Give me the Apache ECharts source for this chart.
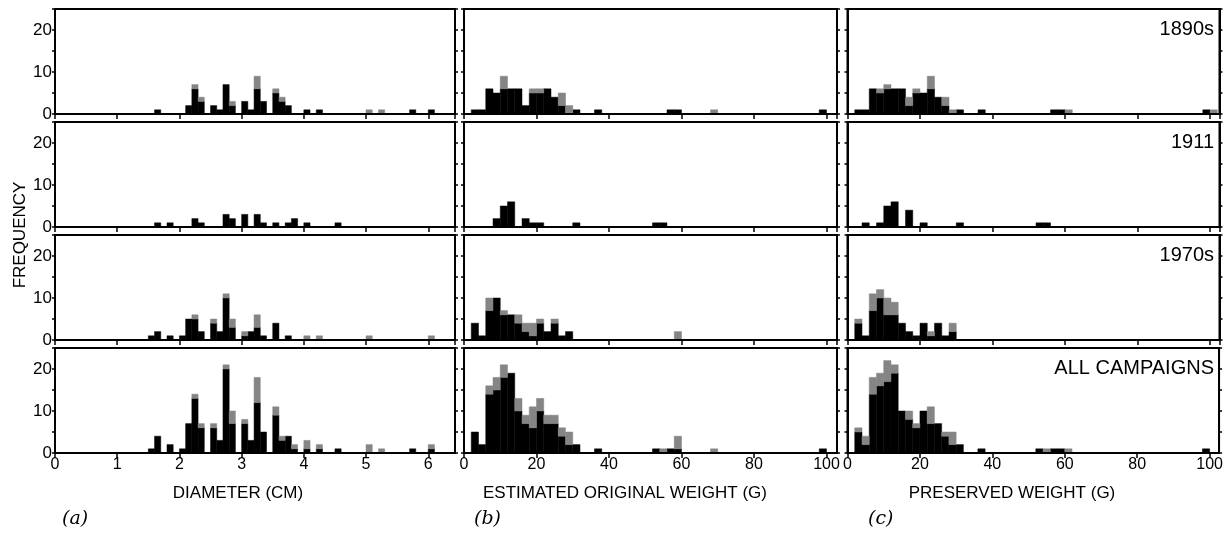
<!DOCTYPE html>
<html><head><meta charset="utf-8">
<script src="https://cdn.jsdelivr.net/npm/echarts@6/dist/echarts.min.js"></script>
<style>html,body{margin:0;padding:0;background:#fff}#c{width:1226px;height:540px}</style>
</head><body><div id="c"></div><script>
// ---------- data ----------
const rowLabels = ['1890s', '1911', '1970s', 'ALL CAMPAIGNS'];
const colTitles = ['DIAMETER (CM)', 'ESTIMATED ORIGINAL WEIGHT (G)', 'PRESERVED WEIGHT (G)'];
const panelLetters = ['(a)', '(b)', '(c)'];
const yLabelValues = [0, 10, 20];

// diameter: bins of 0.1 cm starting at 1.5 cm
const diamBinStart = 1.5, diamBinWidth = 0.1;
const dBlack1890 = [0,1,0,0,0,0,2,6,3,0, 2,1,7,2,0,3,1,6,3,0, 5,3,2,0,0,1,0,1,0,0, 0,0,0,0,0,0,0,0,0,0, 0,0,1,0,0,1];
const dGray1890  = [0,0,0,0,0,0,0,1,1,0, 0,0,0,1,0,0,0,3,0,0, 1,1,0,0,0,0,0,0,0,0, 0,0,0,0,0,1,0,1];
const dBlack1911 = [0,1,0,1,0,0,0,2,1,0, 0,0,3,2,0,3,0,3,1,0, 1,0,1,2,0,1,0,0,0,0, 1];
const dGray1911  = [];
const dBlack1970 = [1,2,0,1,0,1,5,5,2,0, 4,2,10,3,0,1,2,3,1,0, 4,0,1];
const dGray1970  = [0,0,0,0,0,0,0,1,0,0, 1,0,1,2,0,1,0,3,0,0, 0,0,0,0,0,1,0,1,0,0, 0,0,0,0,0,1,0,0,0,0, 0,0,0,0,0,1];
const dBlackAll  = [1,4,0,2,0,1,7,13,6,0, 6,3,20,7,0,7,3,12,5,0, 9,3,4,1,0,1,0,1,0,0, 1,0,0,0,0,0,0,0,0,0, 0,0,1,0,0,1];
const dGrayAll   = [0,0,0,0,0,0,0,1,1,0, 1,0,1,3,0,1,0,6,0,0, 2,1,0,1,0,2,0,1,0,0, 0,0,0,0,0,2,0,1,0,0, 0,0,0,0,0,1];

// weights: bins of 2 g starting at 0 g
const weightBinStart = 0, weightBinWidth = 2;
const wBlack1890 = [0,1,1,6,5,6,6,6,2,5, 5,6,4,2,0,1,0,0,1,0, 0,0,0,0,0,0,0,0,1,1, 0,0,0,0,0,0,0,0,0,0, 0,0,0,0,0,0,0,0,0,1];
const wGray1890  = [0,0,0,0,0,3,0,0,0,1, 1,0,0,3,2,0,0,0,0,0, 0,0,0,0,0,0,0,0,0,0, 0,0,0,0,1];
const wBlack1911 = [0,0,0,0,2,5,6,0,2,1, 1,0,0,0,0,1,0,0,0,0, 0,0,0,0,0,0,1,1];
const wGray1911  = [];
const wBlack1970 = [0,4,1,7,10,6,6,4,2,1, 4,2,4,1,2];
const wGray1970  = [0,0,0,3,0,1,0,2,2,3, 1,0,1,0,0,0,0,0,0,0, 0,0,0,0,0,0,0,0,0,2];
const wBlackAll  = [0,5,2,14,15,18,19,10,7,6, 10,7,7,4,2,2,0,0,1,0, 0,0,0,0,0,0,1,0,1,1, 0,0,0,0,0,0,0,0,0,0, 0,0,0,0,0,0,0,0,0,1];
const wGrayAll   = [0,0,0,2,3,3,0,3,2,5, 3,2,2,2,3,0,0,0,0,0, 0,0,0,0,0,0,0,1,0,3, 0,0,0,0,1];

const pBlack1890 = [0,1,1,6,5,6,6,6,2,5, 5,6,4,2,0,1,0,0,1,0, 0,0,0,0,0,0,0,0,1,1, 0,0,0,0,0,0,0,0,0,0, 0,0,0,0,0,0,0,0,0,1];
const pGray1890  = [0,0,0,0,1,1,0,0,2,1, 0,3,0,2,1,0,0,0,0,0, 0,0,0,0,0,0,0,0,0,0, 1,0,0,0,0,0,0,0,0,0, 0,0,0,0,0,0,0,0,0,0, 1];
const pBlack1911 = [0,0,1,0,1,5,6,0,4,0, 1,0,0,0,0,1,0,0,0,0, 0,0,0,0,0,0,1,1];
const pGray1911  = [];
const pBlack1970 = [0,4,1,7,10,6,6,4,2,1, 4,1,4,1,2];
const pGray1970  = [0,1,0,4,2,4,3,0,0,0, 0,1,0,0,2];
const pBlackAll  = [0,5,2,14,16,17,19,10,8,6, 10,7,7,4,2,2,0,0,1,0, 0,0,0,0,0,0,1,0,1,1, 0,0,0,0,0,0,0,0,0,0, 0,0,0,0,0,0,0,0,0,1];
const pGrayAll   = [0,1,2,4,3,5,2,0,2,1, 0,4,0,1,3,0,0,0,0,0, 0,0,0,0,0,0,0,1,0,0, 1];

// ---------- layout ----------
const FONT = 'Liberation Sans, Arial, sans-serif';
const TICKFONT = 'Liberation Sans Narrow, Arial Narrow, Liberation Sans, sans-serif';
const cols = [
  {left: 55,    width: 400, max: 6.43,  interval: 1,  start: diamBinStart,   bw: diamBinWidth, titleX: 238},
  {left: 464,   width: 373, max: 102.9, interval: 20, start: weightBinStart, bw: weightBinWidth, titleX: 625},
  {left: 847.5, width: 372, max: 102.6, interval: 20, start: weightBinStart, bw: weightBinWidth, titleX: 1012}
];
const rowTops = [9, 122, 235, 348];
const rowH = 105;

const panelData = [
  [[dBlack1890, dGray1890], [wBlack1890, wGray1890], [pBlack1890, pGray1890]],
  [[dBlack1911, dGray1911], [wBlack1911, wGray1911], [pBlack1911, pGray1911]],
  [[dBlack1970, dGray1970], [wBlack1970, wGray1970], [pBlack1970, pGray1970]],
  [[dBlackAll,  dGrayAll],  [wBlackAll,  wGrayAll],  [pBlackAll,  pGrayAll]]
];

function rects(blackArr, grayArr, start, w) {
  const blk = [], gry = [];
  const n = Math.max(blackArr.length, grayArr.length);
  for (let i = 0; i < n; i++) {
    const b = blackArr[i] || 0, g = grayArr[i] || 0;
    const x0 = +(start + i * w).toFixed(4), x1 = +(start + (i + 1) * w).toFixed(4);
    if (b > 0) blk.push([x0, x1, 0, b]);
    if (g > 0) gry.push([x0, x1, b, b + g]);
  }
  return [blk, gry];
}
function renderRect(params, api) {
  const p0 = api.coord([api.value(0), api.value(3)]);
  const p1 = api.coord([api.value(1), api.value(2)]);
  const c = api.visual('color');
  return {type: 'rect', shape: {x: p0[0], y: p0[1], width: p1[0] - p0[0], height: p1[1] - p0[1]},
          style: {fill: c, stroke: c, lineWidth: 0.5}};
}

const grid = [], xAxis = [], yAxis = [], series = [];
const titles = [];
const graphics = [];
rowTops.forEach((top, r) => {
  cols.forEach((col, c) => {
    const gi = grid.length;
    grid.push({left: col.left, top: top, width: col.width, height: rowH,
               show: true, borderColor: '#000', borderWidth: 2, backgroundColor: 'transparent'});
    const isBottom = r === rowTops.length - 1;
    xAxis.push({
      type: 'value', gridIndex: gi, min: 0, max: col.max, interval: col.interval, z: 5,
      axisLine: {show: true, onZero: false, lineStyle: {color: '#000', width: 2}},
      axisTick: {show: true, inside: false, length: 5, lineStyle: {color: '#000', width: 1.5}},
      axisLabel: {show: isBottom, color: '#000', fontFamily: TICKFONT, fontSize: 16, margin: 4,
                  showMaxLabel: false,
                  formatter: v => (Math.abs(v / col.interval - Math.round(v / col.interval)) < 1e-6 ? String(v) : '')},
      splitLine: {show: false}
    });
    const yCommon = {
      type: 'value', gridIndex: gi, min: 0, max: 25, interval: 5, z: 5,
      axisLine: {show: true, lineStyle: {color: '#000', width: 2}},
      axisTick: {show: true, inside: false, length: 3, lineStyle: {color: '#000', width: 1.5}},
      splitLine: {show: false}
    };
    yAxis.push(Object.assign({}, yCommon, {position: 'left',
      axisLabel: {show: c === 0, color: '#000', fontFamily: TICKFONT, fontSize: 17, margin: 3,
                  formatter: v => (yLabelValues.indexOf(v) >= 0 ? String(v) : '')}}));
    yAxis.push(Object.assign({}, yCommon, {position: 'right', axisLabel: {show: false}}));
    const [blk, gry] = rects(panelData[r][c][0], panelData[r][c][1], col.start, col.bw);
    series.push({type: 'custom', xAxisIndex: gi, yAxisIndex: gi * 2, renderItem: renderRect,
                 data: blk, encode: {x: [0, 1], y: [2, 3]}, itemStyle: {color: '#000'}, silent: true, z: 2});
    series.push({type: 'custom', xAxisIndex: gi, yAxisIndex: gi * 2, renderItem: renderRect,
                 data: gry, encode: {x: [0, 1], y: [2, 3]}, itemStyle: {color: '#858585'}, silent: true, z: 2});
  });
  titles.push({text: rowLabels[r], right: 12, top: top + 10, padding: 0,
               textStyle: {color: '#000', fontFamily: FONT, fontSize: 20, fontWeight: 'normal'}});
});
cols.forEach((col, c) => {
  graphics.push({type: 'text', x: col.titleX, y: 493,
    style: {text: colTitles[c], fill: '#000', font: '17px ' + FONT,
            textAlign: 'center', textVerticalAlign: 'middle', align: 'center', verticalAlign: 'middle'}});
});
graphics.push({type: 'text', x: 20, y: 235, rotation: Math.PI / 2,
  style: {text: 'FREQUENCY', fill: '#000', font: '17px ' + FONT,
          textAlign: 'center', textVerticalAlign: 'middle', align: 'center', verticalAlign: 'middle'}});

const letterLefts = [62, 474, 868];
panelLetters.forEach((t, i) => {
  titles.push({text: t, left: letterLefts[i], top: 510, padding: 0,
               textStyle: {color: '#000', fontFamily: 'DejaVu Serif, serif', fontStyle: 'italic', fontSize: 19, fontWeight: 'normal'}});
});

const chart = echarts.init(document.getElementById('c'), null, {renderer: 'canvas'});
chart.setOption({
  animation: false,
  backgroundColor: '#fff',
  title: titles,
  grid, xAxis, yAxis, series,
  graphic: graphics
});
</script></body></html>
